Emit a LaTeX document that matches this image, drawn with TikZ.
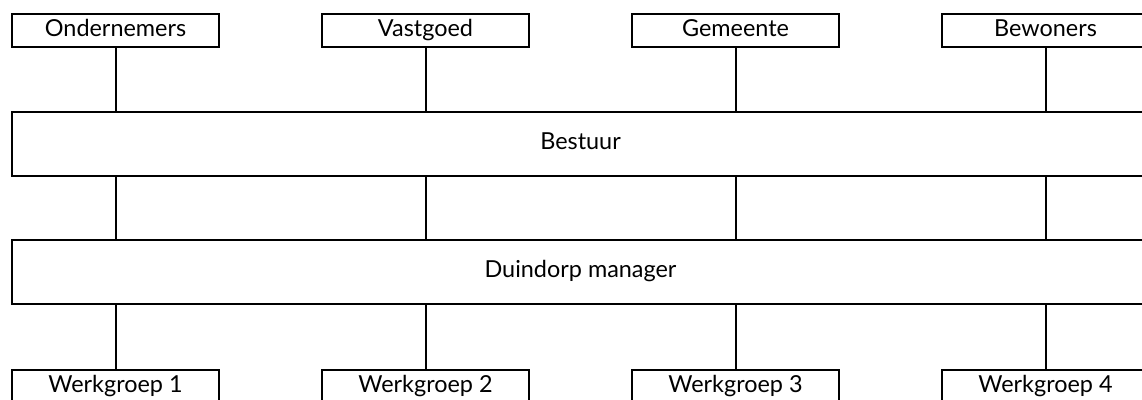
\documentclass[tikz,border=0pt]{standalone}
\usepackage{fontspec}
\setmainfont{Lato}
\begin{document}
\begin{tikzpicture}[x=1bp,y=-1bp,
  lw/.style={line width=2bp},
  txt/.style={font=\fontsize{23.5}{28}\selectfont,text height=17.5bp,text depth=6bp},
  smallbox/.style={draw,lw,txt,minimum width=207bp,minimum height=33bp,inner sep=0pt,anchor=north west},
  bigbox/.style={draw,lw,txt,minimum width=1137bp,minimum height=64bp,inner sep=0pt,anchor=north west},
  conn/.style={lw}]
\useasboundingbox (0,0) rectangle (1142,399);
\clip (0,0) rectangle (1142,399);
\node[smallbox] (t1) at (11,13) {Ondernemers};
\node[smallbox] (t2) at (321,13) {Vastgoed};
\node[smallbox] (t3) at (631,13) {Gemeente};
\node[smallbox] (t4) at (941,13) {Bewoners};
\node[bigbox] (best) at (11,111) {Bestuur};
\node[bigbox] (mgr) at (11,239) {Duindorp manager};
\node[smallbox] (w1) at (11,369) {Werkgroep 1};
\node[smallbox] (w2) at (321,369) {Werkgroep 2};
\node[smallbox] (w3) at (631,369) {Werkgroep 3};
\node[smallbox] (w4) at (941,369) {Werkgroep 4};
\foreach \i in {1,2,3,4}{
  \draw[conn] (t\i.south) -- (t\i.south |- best.north);
  \draw[conn] (t\i.south |- best.south) -- (t\i.south |- mgr.north);
  \draw[conn] (w\i.north |- mgr.south) -- (w\i.north);
}
\end{tikzpicture}
\end{document}
